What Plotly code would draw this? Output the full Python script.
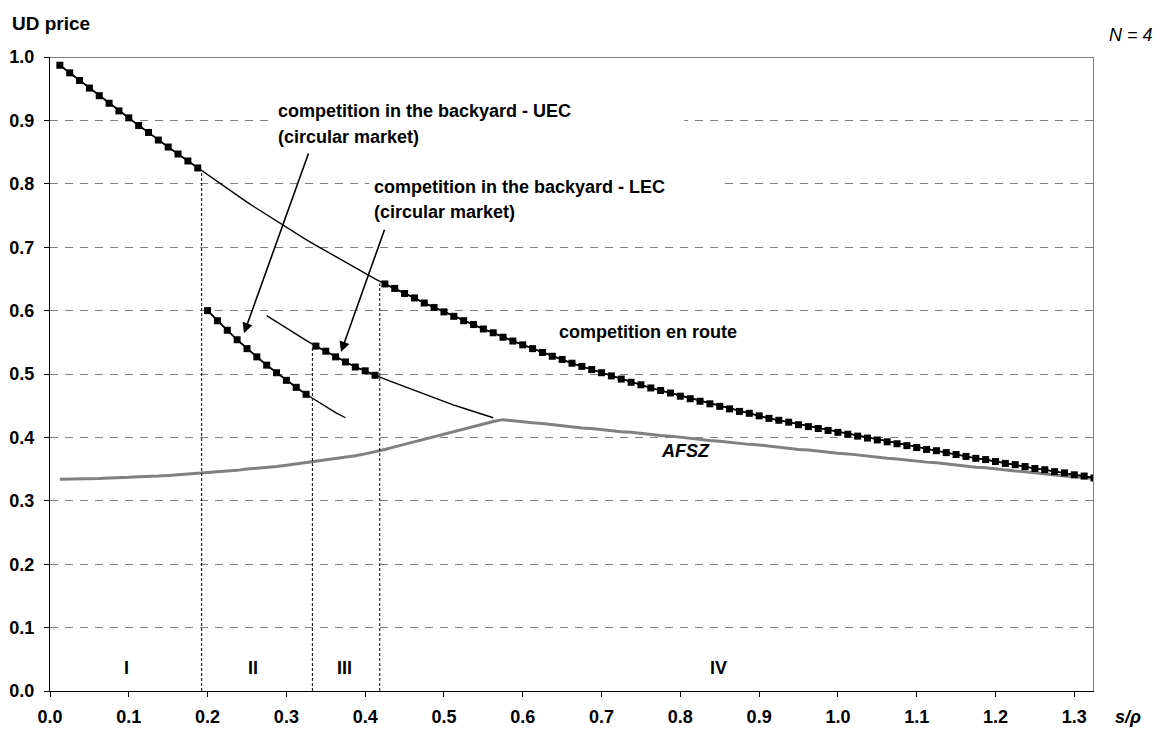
import plotly.graph_objects as go

# ---------------- data ----------------
S0 = 0.0125      # first s/rho sample
DS = 0.0125      # sample step

en_route = [0.987, 0.975, 0.963, 0.951, 0.939, 0.927, 0.915, 0.904, 0.892, 0.881, 0.869, 0.858, 0.847, 0.836, 0.825,
            0.814, 0.803, 0.792, 0.782, 0.771, 0.761, 0.751, 0.741, 0.731, 0.722, 0.712, 0.703, 0.694, 0.685, 0.676,
            0.667, 0.659, 0.650,
            0.642, 0.635, 0.627, 0.620, 0.612, 0.605, 0.598, 0.591, 0.584, 0.578, 0.571, 0.565, 0.558, 0.552, 0.546,
            0.540, 0.534, 0.528, 0.523, 0.517, 0.512, 0.507, 0.502,
            0.497, 0.492, 0.487, 0.483, 0.478, 0.474, 0.470, 0.465, 0.461, 0.457, 0.453, 0.449, 0.445, 0.441, 0.438,
            0.434, 0.430, 0.427, 0.424, 0.420, 0.417, 0.414, 0.411, 0.408,
            0.405, 0.402, 0.399, 0.396, 0.393, 0.390, 0.387, 0.384, 0.381, 0.379, 0.376, 0.373, 0.370, 0.367, 0.365,
            0.362, 0.359, 0.357, 0.354, 0.351, 0.349, 0.346, 0.344, 0.341, 0.339, 0.336]

afsz = [0.334, 0.334, 0.334, 0.335, 0.335, 0.336, 0.336, 0.337, 0.338, 0.338, 0.339, 0.340, 0.341, 0.342, 0.343,
        0.345, 0.346, 0.347, 0.348, 0.350, 0.351, 0.352, 0.354, 0.356, 0.358, 0.360, 0.362, 0.364, 0.366, 0.369,
        0.371, 0.374, 0.377,
        0.381, 0.385, 0.389, 0.393, 0.397, 0.402, 0.406, 0.410, 0.414, 0.418, 0.421, 0.425, 0.428,
        0.426, 0.425, 0.423, 0.422, 0.420, 0.419, 0.417, 0.415, 0.414, 0.412, 0.411, 0.409, 0.408, 0.406, 0.405,
        0.403, 0.402, 0.400, 0.398, 0.397, 0.395, 0.394, 0.392, 0.391, 0.389, 0.388, 0.386, 0.384, 0.383, 0.381,
        0.380, 0.378, 0.377, 0.375, 0.374, 0.372, 0.371, 0.369, 0.367, 0.366, 0.364, 0.363, 0.361, 0.360, 0.358,
        0.357, 0.355, 0.353, 0.352, 0.350, 0.349, 0.347, 0.346, 0.344, 0.343, 0.341, 0.339, 0.338, 0.336, 0.335]

uec_start = 0.2
uec = [0.600, 0.584, 0.569, 0.554, 0.540, 0.527, 0.514, 0.502, 0.490, 0.479, 0.468, 0.458, 0.448, 0.439, 0.431]
uec_marked = (0, 11)          # index range drawn with markers

lec_start = 0.275
lec = [0.592, 0.582, 0.572, 0.562, 0.553, 0.544, 0.536, 0.527, 0.519, 0.511, 0.505, 0.498,
       0.492, 0.486, 0.480, 0.474, 0.468, 0.462, 0.457, 0.451, 0.446, 0.441, 0.436, 0.431]
lec_marked = (5, 12)

en_route_marked = [(0, 15), (33, 106)]

region_bounds = [0.1925, 0.333, 0.4185]
region_tops = [0.821, 0.544, 0.643]
region_labels = ["I", "II", "III", "IV"]
region_label_x = [0.097, 0.258, 0.374, 0.848]

x_ticks = [0.0, 0.1, 0.2, 0.3, 0.4, 0.5, 0.6, 0.7, 0.8, 0.9, 1.0, 1.1, 1.2, 1.3]
y_ticks = [0.0, 0.1, 0.2, 0.3, 0.4, 0.5, 0.6, 0.7, 0.8, 0.9, 1.0]
X_MAX = 1.325

FONT = "Liberation Sans, Arial, sans-serif"
GRAY = "#808080"

fig = go.Figure()

# AFSZ
fig.add_trace(go.Scatter(y=afsz, x0=S0, dx=DS, mode="lines",
                         line=dict(color=GRAY, width=3), hoverinfo="skip"))

# full curves (thin lines)
fig.add_trace(go.Scatter(y=en_route, x0=S0, dx=DS, mode="lines",
                         line=dict(color="black", width=1.4), hoverinfo="skip"))
fig.add_trace(go.Scatter(y=uec, x0=uec_start, dx=DS, mode="lines",
                         line=dict(color="black", width=1.4), hoverinfo="skip"))
fig.add_trace(go.Scatter(y=lec, x0=lec_start, dx=DS, mode="lines",
                         line=dict(color="black", width=1.4), hoverinfo="skip"))

mk = dict(symbol="square", size=7, color="black")
for a, b in en_route_marked:
    fig.add_trace(go.Scatter(y=en_route[a:b], x0=S0 + a * DS, dx=DS, mode="lines+markers",
                             line=dict(color="black", width=1.6), marker=mk, hoverinfo="skip"))
a, b = uec_marked
fig.add_trace(go.Scatter(y=uec[a:b], x0=uec_start + a * DS, dx=DS, mode="lines+markers",
                         line=dict(color="black", width=1.6), marker=mk, hoverinfo="skip"))
a, b = lec_marked
fig.add_trace(go.Scatter(y=lec[a:b], x0=lec_start + a * DS, dx=DS, mode="lines+markers",
                         line=dict(color="black", width=1.6), marker=mk, hoverinfo="skip"))

# region boundaries (dotted verticals)
for xb, top in zip(region_bounds, region_tops):
    fig.add_trace(go.Scatter(x=[xb, xb], y=[0, top], mode="lines",
                             line=dict(color="black", width=1, dash="3px,2px"), hoverinfo="skip"))

shapes = [
    # white masks behind text boxes (hide gridlines)
    dict(type="rect", xref="x", yref="y", x0=0.283, x1=0.805, y0=0.885, y1=0.915,
         fillcolor="white", line=dict(width=0), layer="between"),
    dict(type="rect", xref="x", yref="y", x0=0.405, x1=0.850, y0=0.785, y1=0.815,
         fillcolor="white", line=dict(width=0), layer="between"),
    # gray top and right border
    dict(type="line", xref="x", yref="y", x0=0, x1=X_MAX, y0=1.0, y1=1.0,
         line=dict(color=GRAY, width=2), layer="above"),
    dict(type="line", xref="x", yref="y", x0=X_MAX, x1=X_MAX, y0=0, y1=1.0,
         line=dict(color=GRAY, width=2), layer="above"),
]

bold = dict(family=FONT, size=18, color="black", weight="bold")
ann = []
def txt(x, y, t, xanchor="left", font=None, xref="x", yref="y"):
    ann.append(dict(x=x, y=y, xref=xref, yref=yref, text=t, showarrow=False,
                    xanchor=xanchor, yanchor="middle", font=font or bold))

txt(0.2868, 0.9144, "competition in the backyard - UEC")
txt(0.2868, 0.8733, "(circular market)")
txt(0.4086, 0.7945, "competition in the backyard - LEC")
txt(0.4086, 0.7550, "(circular market)")
txt(0.6434, 0.5658, "competition en route")
txt(0.806, 0.378, "<i>AFSZ</i>", xanchor="center")
for lab, lx in zip(region_labels, region_label_x):
    txt(lx, 0.036, lab, xanchor="center")

txt(-0.0383, 1.053, "UD price", xref="paper", yref="paper",
    font=dict(family=FONT, size=19, color="black", weight="bold"))
txt(1.0125, 1.035, "<i>N = 4</i>", xref="paper", yref="paper",
    font=dict(family=FONT, size=18, color="black"))
txt(1.018, -0.041, "<i>s/ρ</i>", xref="paper", yref="paper")

# arrows
for hx, hy, tx, ty in [(0.2462, 0.5642, 0.3287, 0.850), (0.3693, 0.5347, 0.4252, 0.7298)]:
    ann.append(dict(x=hx, y=hy, ax=tx, ay=ty, xref="x", yref="y", axref="x", ayref="y",
                    showarrow=True, arrowhead=2, arrowsize=1.3, arrowwidth=1.6,
                    arrowcolor="black", standoff=0, text=""))

fig.update_layout(
    width=1162, height=729,
    margin=dict(l=50, r=68, t=57, b=38, autoexpand=False),
    paper_bgcolor="white", plot_bgcolor="white",
    showlegend=False,
    shapes=shapes, annotations=ann,
    xaxis=dict(range=[0, X_MAX], tickvals=x_ticks, tickformat=".1f", automargin=False,
               showgrid=False, zeroline=False, showline=True, linecolor="black", linewidth=1,
               ticks="outside", ticklen=5, tickcolor="black", tickwidth=1,
               tickfont=bold, ticklabelstandoff=4),
    yaxis=dict(range=[0, 1.0], tickvals=y_ticks, tickformat=".1f", automargin=False,
               showgrid=True, gridcolor=GRAY, gridwidth=1, griddash="8px,7px",
               zeroline=False, showline=True, linecolor="black", linewidth=1,
               ticks="outside", ticklen=5, tickcolor="black", tickwidth=1,
               tickfont=bold, ticklabelstandoff=6),
)

fig.write_html("out.html", config={"displayModeBar": False},
               post_script="document.body.style.margin='0';document.body.style.overflow='hidden';")
